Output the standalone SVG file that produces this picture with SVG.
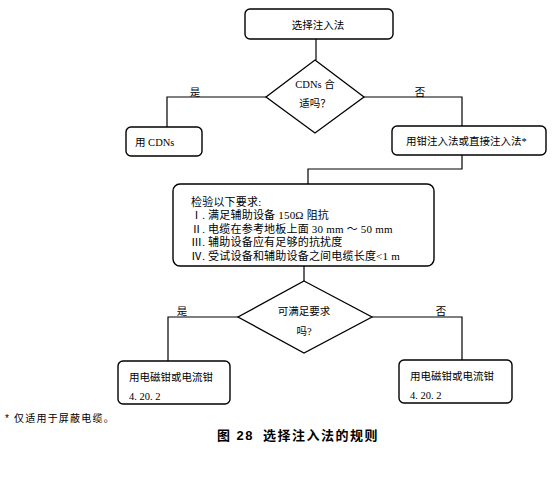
<svg xmlns="http://www.w3.org/2000/svg" width="552" height="480" viewBox="0 0 552 480">
<style>
.box{fill:#fff;stroke:#000;stroke-width:1.4}
.dia{fill:#fff;stroke:#000;stroke-width:1.3}
.ln{fill:none;stroke:#000;stroke-width:1.2}
text{font-family:"Liberation Serif","Noto Sans CJK SC",serif;font-size:10.5px;fill:#000}
.c{text-anchor:middle}
.chk{font-size:11px;letter-spacing:0.2px}
.cap{font-family:"Liberation Sans","Noto Sans CJK SC",sans-serif;font-weight:bold;font-size:13px;letter-spacing:1.5px}
.foot{font-family:"Liberation Sans","Noto Sans CJK SC",sans-serif;font-size:10px;letter-spacing:1.2px}
</style>
<rect width="552" height="480" fill="#fff"/>
<g id="connectors">
<path class="ln" d="M316 39V60"/>
<path class="ln" d="M266 97H167V127"/>
<path class="ln" d="M364 97H462V126"/>
<path class="ln" d="M462 155V169H308V184"/>
<path class="ln" d="M304 266V281"/>
<path class="ln" d="M238 317H168V361"/>
<path class="ln" d="M372 317H462V360"/>
<text x="195" y="96" class="c">是</text>
<text x="420" y="96" class="c">否</text>
<text x="182" y="315" class="c">是</text>
<text x="441" y="315" class="c">否</text>
</g>
<g id="start">
<rect class="box" x="245" y="9" width="148" height="30" rx="5"/>
<text x="318" y="29" class="c">选择注入法</text>
</g>
<g id="decision1">
<path class="dia" d="M315 60L364 97L315 133L266 97Z"/>
<text x="315" y="88" class="c">CDNs 合</text>
<text x="315" y="107" class="c">适吗？</text>
</g>
<g id="useCDN">
<rect class="box" x="126" y="127" width="76" height="29" rx="5"/>
<text x="135" y="146">用 CDNs</text>
</g>
<g id="clamp">
<rect class="box" x="392" y="126" width="154" height="29" rx="5"/>
<text x="406" y="145">用钳注入法或直接注入法*</text>
</g>
<g id="check">
<rect class="box" x="173" y="184" width="261" height="82" rx="7"/>
<text x="191" y="206" class="chk">检验以下要求:</text>
<text x="191" y="219" class="chk">Ⅰ. 满足辅助设备 150Ω 阻抗</text>
<text x="191" y="233" class="chk">Ⅱ. 电缆在参考地板上面 30 mm ～ 50 mm</text>
<text x="191" y="246" class="chk">Ⅲ. 辅助设备应有足够的抗扰度</text>
<text x="191" y="260" class="chk">Ⅳ. 受试设备和辅助设备之间电缆长度&lt;1 m</text>
</g>
<g id="decision2">
<path class="dia" d="M304 281L372 317L304 353L238 317Z"/>
<text x="304" y="315" class="c">可满足要求</text>
<text x="304" y="335" class="c">吗?</text>
</g>
<g id="yesBox">
<rect class="box" x="118" y="361" width="112" height="43" rx="5"/>
<text x="129" y="381">用电磁钳或电流钳</text>
<text x="129" y="400">4. 20. 2</text>
</g>
<g id="noBox">
<rect class="box" x="399" y="360" width="113" height="43" rx="5"/>
<text x="410" y="380">用电磁钳或电流钳</text>
<text x="410" y="399">4. 20. 2</text>
</g>
<text x="5" y="422" class="foot">* 仅适用于屏蔽电缆。</text>
<text y="440" class="cap"><tspan x="217">图 28</tspan><tspan x="263">选择注入法的规则</tspan></text>
</svg>
